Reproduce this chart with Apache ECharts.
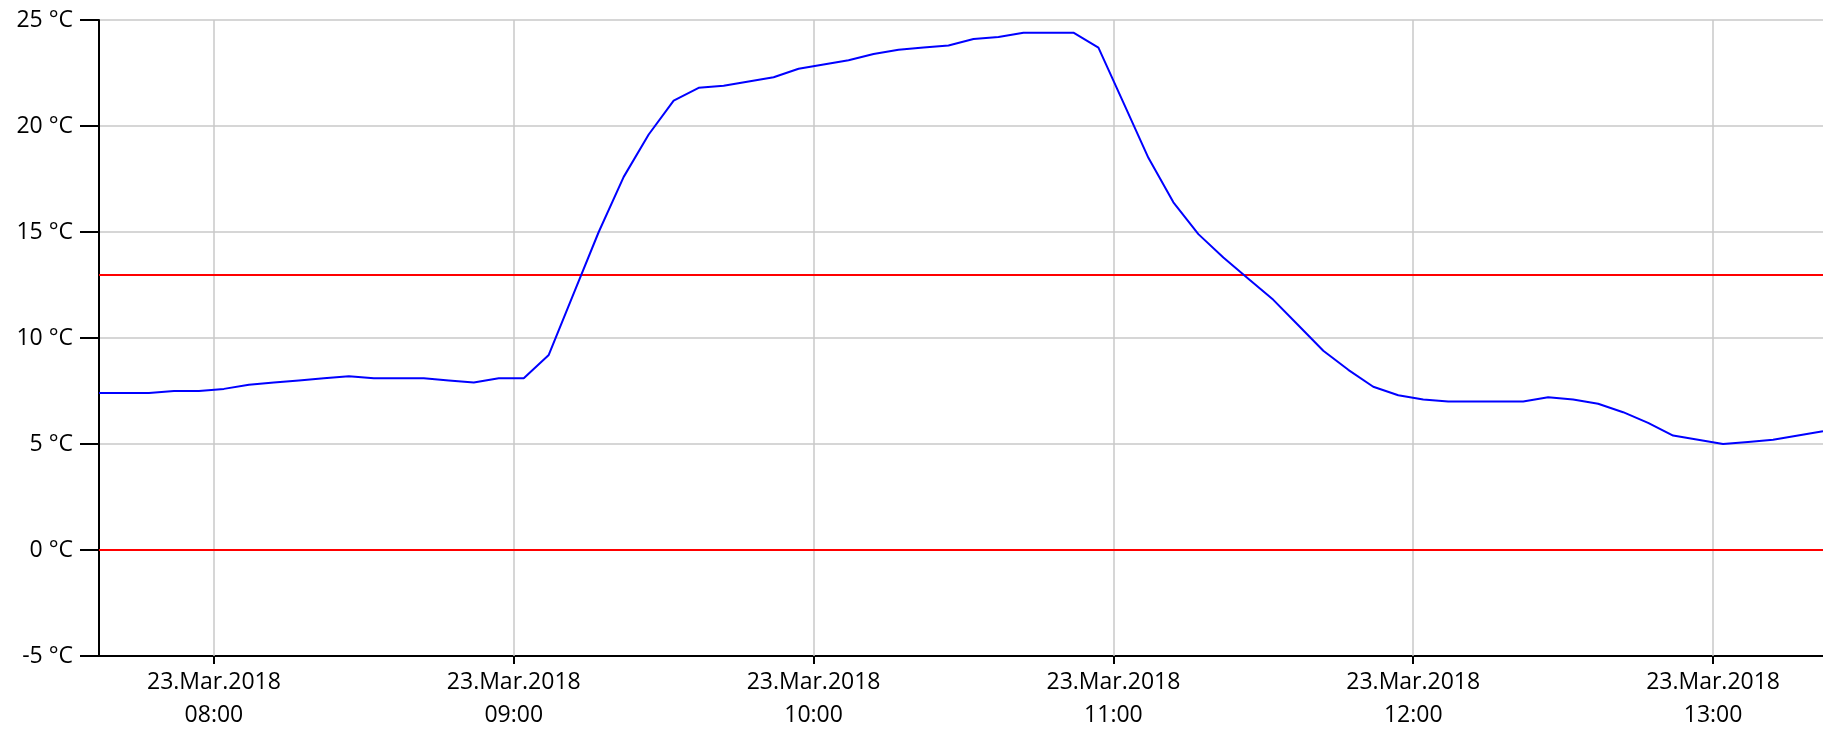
<!DOCTYPE html>
<html>
<head>
<meta charset="utf-8">
<script src="https://cdn.jsdelivr.net/npm/echarts@6/dist/echarts.min.js"></script>
<style>
html,body{margin:0;padding:0;background:#fff;}
#chart{width:1823px;height:732px;}
</style>
</head>
<body>
<div id="chart"></div>
<script>
// ---- data ----
const dateLabel = '23.Mar.2018';
const times = ['07:37','07:42','07:47','07:52','07:57','08:02','08:07','08:12','08:17','08:22',
  '08:27','08:32','08:37','08:42','08:47','08:52','08:57','09:02','09:07','09:12',
  '09:17','09:22','09:27','09:32','09:37','09:42','09:47','09:52','09:57','10:02',
  '10:07','10:12','10:17','10:22','10:27','10:32','10:37','10:42','10:47','10:52',
  '10:57','11:02','11:07','11:12','11:17','11:22','11:27','11:32','11:37','11:42',
  '11:47','11:52','11:57','12:02','12:07','12:12','12:17','12:22','12:27','12:32',
  '12:37','12:42','12:47','12:52','12:57','13:02','13:07','13:12','13:17','13:22'];
const temps = [7.4,7.4,7.4,7.5,7.5,7.6,7.8,7.9,8.0,8.1,
  8.2,8.1,8.1,8.1,8.0,7.9,8.1,8.1,9.2,12.1,
  15.0,17.6,19.6,21.2,21.8,21.9,22.1,22.3,22.7,22.9,
  23.1,23.4,23.6,23.7,23.8,24.1,24.2,24.4,24.4,24.4,
  23.7,21.1,18.5,16.4,14.9,13.8,12.8,11.8,10.6,9.4,
  8.5,7.7,7.3,7.1,7.0,7.0,7.0,7.0,7.2,7.1,
  6.9,6.5,6.0,5.4,5.2,5.0,5.1,5.2,5.4,5.6];
const tickTimes = ['08:00','09:00','10:00','11:00','12:00','13:00'];
const thresholds = [13, 0];
const yTicks = {min: -5, max: 25, step: 5};

// minutes since midnight (x axis is a linear minute scale)
function toMin(hhmm) {
  const p = hhmm.split(':');
  return (+p[0]) * 60 + (+p[1]);
}
const seriesData = times.map((t, i) => [toMin(t), temps[i]]);
const tickValues = tickTimes.map(toMin);

const FONT = '"Open Sans", "DejaVu Sans", sans-serif';
const chart = echarts.init(document.getElementById('chart'));
chart.setOption({
  animation: false,
  backgroundColor: '#ffffff',
  grid: {left: 99, right: 0, top: 20, bottom: 74, containLabel: false},
  xAxis: {
    type: 'value',
    min: toMin(times[0]),
    max: toMin(times[times.length - 1]),
    axisLine: {show: true, onZero: false, lineStyle: {color: '#000', width: 2}},
    axisTick: {show: true, length: 8, customValues: tickValues, lineStyle: {color: '#000', width: 2}},
    axisLabel: {
      customValues: tickValues,
      showMinLabel: true,
      showMaxLabel: true,
      margin: 10,
      color: '#000',
      fontFamily: FONT,
      fontSize: 23,
      lineHeight: 33,
      formatter: function (v) {
        const i = tickValues.indexOf(v);
        return i >= 0 ? dateLabel + '\n' + tickTimes[i] : '';
      }
    },
    splitLine: {show: false}
  },
  yAxis: {
    type: 'value',
    min: yTicks.min,
    max: yTicks.max,
    interval: yTicks.step,
    axisLine: {show: true, onZero: false, lineStyle: {color: '#000', width: 2}},
    axisTick: {show: true, length: 19, lineStyle: {color: '#000', width: 2}},
    axisLabel: {
      margin: 26,
      color: '#000',
      fontFamily: FONT,
      fontSize: 23,
      formatter: '{value} °C'
    },
    splitLine: {show: true, lineStyle: {color: '#c8c8c8', width: 1.5}}
  },
  series: [
    {
      type: 'line',
      data: seriesData,
      showSymbol: false,
      symbol: 'none',
      lineStyle: {color: '#0000ff', width: 2},
      z: 5,
      markLine: {
        silent: true,
        symbol: ['none', 'none'],
        label: {show: false},
        lineStyle: {color: '#c8c8c8', width: 1.5, type: 'solid'},
        data: tickValues.map(v => ({xAxis: v}))
      }
    },
    {
      type: 'line',
      data: [],
      z: 4,
      markLine: {
        silent: true,
        symbol: ['none', 'none'],
        label: {show: false},
        lineStyle: {color: '#ff0000', width: 2, type: 'solid'},
        data: thresholds.map(v => ({yAxis: v}))
      }
    }
  ]
});
</script>
</body>
</html>
